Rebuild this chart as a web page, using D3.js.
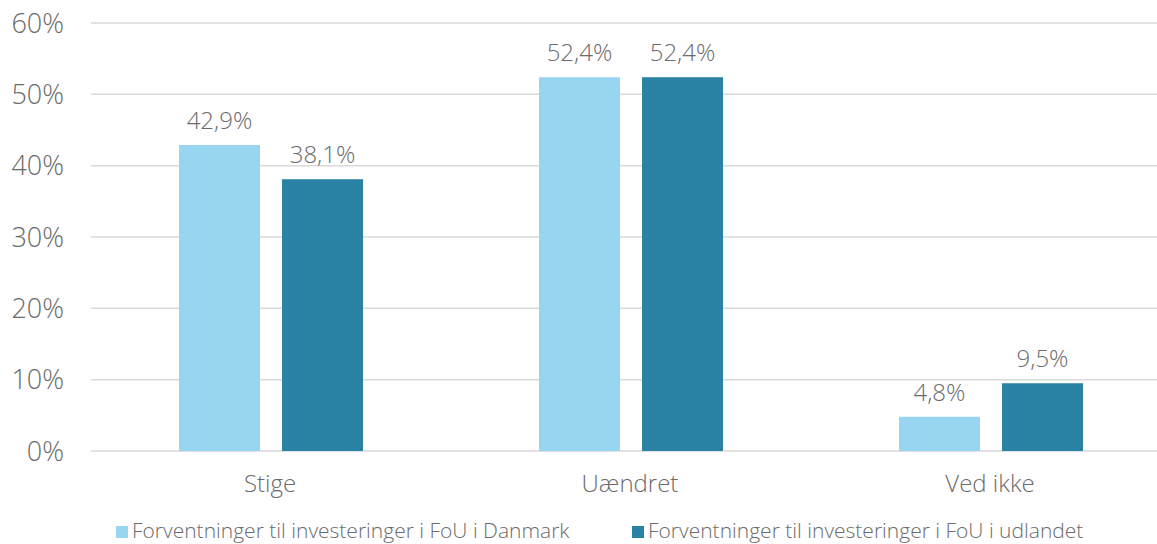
<!DOCTYPE html>
<html><head><meta charset="utf-8">
<script src="https://cdn.jsdelivr.net/npm/d3@7"></script>
<style>body{margin:0;background:#fff;} svg{display:block;font-family:"Open Sans",sans-serif;font-weight:300;}</style>
</head><body><svg id="c" width="1157" height="544"></svg>
<script>
const categories = ["Stige", "Uændret", "Ved ikke"];
const seriesNames = ["Forventninger til investeringer i FoU i Danmark", "Forventninger til investeringer i FoU i udlandet"];
const danmark = [42.9, 52.4, 4.8];
const udlandet = [38.1, 52.4, 9.5];
const yTicks = [0, 10, 20, 30, 40, 50, 60];
const colors = ["#97D5F0", "#2A83A5"];

const svg = d3.select("#c");
const x0 = d3.scaleBand().domain(categories).range([90, 1170]);
const x1 = d3.scaleBand().domain([0,1]).range([89, 273]).paddingInner(0.2136);
const y = d3.scaleLinear().domain([0, 60]).range([451, 23]);
const fmt = v => d3.format(".1f")(v).replace(".", ",") + "%";
const txt = "#6b6b6b";

// grid
svg.append("g").selectAll("line").data(yTicks).join("line")
  .attr("x1", 91).attr("x2", 1157).attr("y1", d => y(d)).attr("y2", d => y(d))
  .attr("stroke", "#d9d9d9").attr("stroke-width", 1.5);
svg.append("g").selectAll("text").data(yTicks).join("text")
  .attr("x", 64).attr("y", d => y(d)).attr("dy", "0.36em").attr("text-anchor", "end")
  .attr("font-size", 27).attr("fill", txt).text(d => d + "%");

const series = [danmark, udlandet];
series.forEach((vals, si) => {
  const g = svg.append("g");
  g.selectAll("rect").data(vals).join("rect")
    .attr("x", (d,i) => x0(categories[i]) + x1(si))
    .attr("width", x1.bandwidth())
    .attr("y", d => y(d)).attr("height", d => y(0) - y(d))
    .attr("fill", colors[si]);
  g.selectAll("text").data(vals).join("text")
    .attr("x", (d,i) => x0(categories[i]) + x1(si) + x1.bandwidth()/2)
    .attr("y", d => y(d) - 16).attr("text-anchor", "middle")
    .attr("font-size", 24).attr("fill", txt).text(fmt);
});

svg.append("g").selectAll("text").data(categories).join("text")
  .attr("x", d => x0(d) + x0.bandwidth()/2).attr("y", 492).attr("text-anchor", "middle")
  .attr("font-size", 24).attr("fill", txt).text(d => d);

// legend
const legX = [116, 632];
seriesNames.forEach((n, i) => {
  svg.append("rect").attr("x", legX[i]).attr("y", 526).attr("width", 12).attr("height", 12).attr("fill", colors[i]);
  svg.append("text").attr("x", legX[i] + 16).attr("y", 538).attr("font-size", 21).attr("fill", txt).text(n);
});
</script></body></html>
